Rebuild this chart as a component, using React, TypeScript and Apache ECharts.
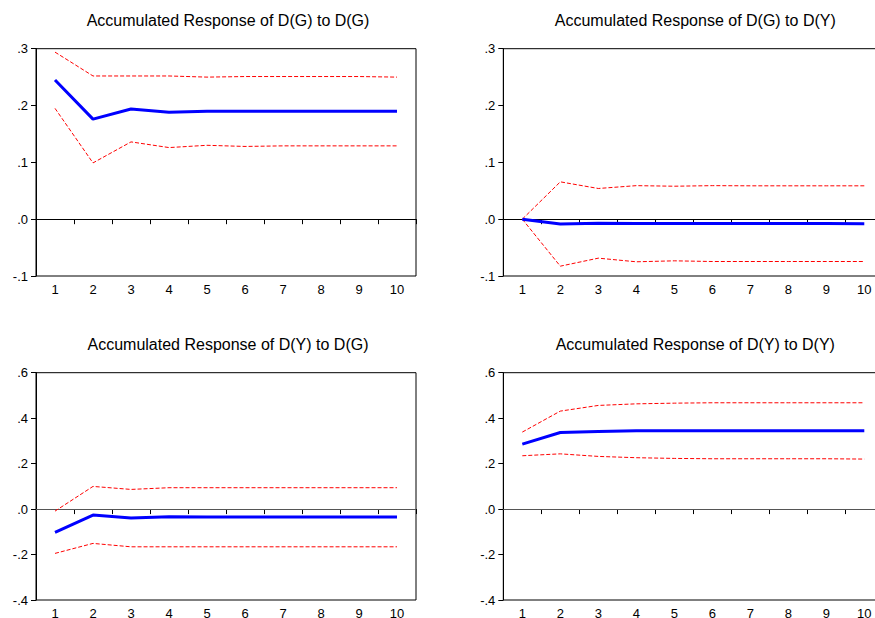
import React, { useEffect, useRef } from "react";
import * as echarts from "echarts";

const periods = ["1", "2", "3", "4", "5", "6", "7", "8", "9", "10"];

const titles = [
  "Accumulated Response of D(G) to D(G)",
  "Accumulated Response of D(G) to D(Y)",
  "Accumulated Response of D(Y) to D(G)",
  "Accumulated Response of D(Y) to D(Y)",
];

// Panel 1: D(G) to D(G)
const gg = [0.245, 0.176, 0.194, 0.188, 0.19, 0.19, 0.19, 0.19, 0.19, 0.19];
const ggUpper = [0.294, 0.252, 0.252, 0.252, 0.25, 0.251, 0.251, 0.251, 0.251, 0.25];
const ggLower = [0.195, 0.099, 0.136, 0.126, 0.13, 0.128, 0.129, 0.129, 0.129, 0.129];

// Panel 2: D(G) to D(Y)
const gy = [0.0, -0.0085, -0.007, -0.0076, -0.0074, -0.0076, -0.0074, -0.0076, -0.0076, -0.008];
const gyUpper = [0.0, 0.0657, 0.054, 0.059, 0.058, 0.059, 0.0587, 0.0587, 0.0587, 0.0587];
const gyLower = [0.0, -0.0827, -0.0686, -0.075, -0.0733, -0.0745, -0.0745, -0.0745, -0.0745, -0.0745];

// Panel 3: D(Y) to D(G)
const yg = [-0.1026, -0.0264, -0.0396, -0.034, -0.035, -0.035, -0.035, -0.035, -0.035, -0.035];
const ygUpper = [-0.009, 0.0997, 0.0865, 0.094, 0.094, 0.094, 0.094, 0.094, 0.094, 0.094];
const ygLower = [-0.195, -0.151, -0.166, -0.166, -0.166, -0.166, -0.166, -0.166, -0.166, -0.166];

// Panel 4: D(Y) to D(Y)
const yy = [0.286, 0.337, 0.3416, 0.3446, 0.3446, 0.3446, 0.3446, 0.3446, 0.3446, 0.3446];
const yyUpper = [0.3387, 0.431, 0.456, 0.463, 0.466, 0.4677, 0.4677, 0.4677, 0.4677, 0.4677];
const yyLower = [0.2346, 0.243, 0.2317, 0.226, 0.2229, 0.2214, 0.2214, 0.2214, 0.2214, 0.22];

const yScales = [
  { min: -0.1, max: 0.3, interval: 0.1 },
  { min: -0.1, max: 0.3, interval: 0.1 },
  { min: -0.4, max: 0.6, interval: 0.2 },
  { min: -0.4, max: 0.6, interval: 0.2 },
];

const panels = [
  { mid: gg, up: ggUpper, lo: ggLower },
  { mid: gy, up: gyUpper, lo: gyLower },
  { mid: yg, up: ygUpper, lo: ygLower },
  { mid: yy, up: yyUpper, lo: yyLower },
];

const FONT = "Liberation Sans, Arial, sans-serif";

function fmt(v: number): string {
  if (Math.abs(v) < 1e-9) return ".0";
  const s = v.toFixed(1);
  return s.replace(/^(-?)0\./, "$1.");
}

export default function App() {
  const ref = useRef<HTMLDivElement>(null);
  useEffect(() => {
    if (!ref.current) return;
    const chart = echarts.init(ref.current, null, { renderer: "svg" });
    const lefts = [36, 503.3, 36, 503.3];
    const tops = [48.7, 48.7, 372.7, 372.7];
    const W = 380;
    const H = 227.3;

    const grids = lefts.map((l, i) => ({
      left: l,
      top: tops[i],
      width: W,
      height: H,
      show: true,
      borderColor: "#000",
      borderWidth: 1,
      backgroundColor: "transparent",
      outerBoundsMode: "none",
      containLabel: false,
    }));

    const xAxes = lefts.map((_, i) => ({
      type: "category",
      gridIndex: i,
      data: periods,
      boundaryGap: true,
      axisLine: { show: true, lineStyle: { color: "#000", width: 1 } },
      axisTick: { show: true, length: 5, interval: 0, lineStyle: { color: "#000" } },
      axisLabel: { interval: 0, color: "#000", fontFamily: FONT, fontSize: 13, margin: 7 },
      splitLine: { show: false },
    }));

    const yAxes = yScales.map((s, i) => ({
      type: "value",
      gridIndex: i,
      min: s.min,
      max: s.max,
      interval: s.interval,
      axisLine: { show: true, lineStyle: { color: "#000", width: 1 } },
      axisTick: { show: true, length: 5, lineStyle: { color: "#000" } },
      axisLabel: {
        color: "#000",
        fontFamily: FONT,
        fontSize: 13,
        margin: 8,
        formatter: (v: number) => fmt(v),
      },
      splitLine: { show: false },
    }));

    const series: any[] = [];
    panels.forEach((p, i) => {
      const zeroColor = i < 2 ? "#000" : "#555";
      series.push({
        type: "line",
        xAxisIndex: i,
        yAxisIndex: i,
        data: p.up,
        symbol: "none",
        lineStyle: { color: "#ff0000", width: 1, type: [4, 2] },
        z: 3,
      });
      series.push({
        type: "line",
        xAxisIndex: i,
        yAxisIndex: i,
        data: p.lo,
        symbol: "none",
        lineStyle: { color: "#ff0000", width: 1, type: [4, 2] },
        z: 3,
      });
      series.push({
        type: "line",
        xAxisIndex: i,
        yAxisIndex: i,
        data: p.mid,
        symbol: "none",
        lineStyle: { color: "#0000ff", width: 3 },
        z: 4,
        markLine: {
          silent: true,
          symbol: "none",
          label: { show: false },
          lineStyle: { color: zeroColor, width: 1, type: "solid" },
          data: [{ yAxis: 0 }],
          z: 2,
        },
      });
    });

    const graphics = titles.map((t, i) => ({
      type: "text",
      x: lefts[i] + W / 2 + 2,
      y: tops[i] - 28.7,
      style: {
        text: t,
        fill: "#000",
        font: `16px ${FONT}`,
        textAlign: "center",
        textVerticalAlign: "middle",
      },
    }));

    chart.setOption({
      animation: false,
      backgroundColor: "#fff",
      grid: grids,
      xAxis: xAxes,
      yAxis: yAxes,
      series,
      graphic: graphics,
    });
    return () => chart.dispose();
  }, []);
  return (
    <div style={{ position: "absolute", left: 0, top: 0, width: 875, height: 618, overflow: "hidden" }}>
      <div ref={ref} style={{ width: 900, height: 618 }} />
    </div>
  );
}
